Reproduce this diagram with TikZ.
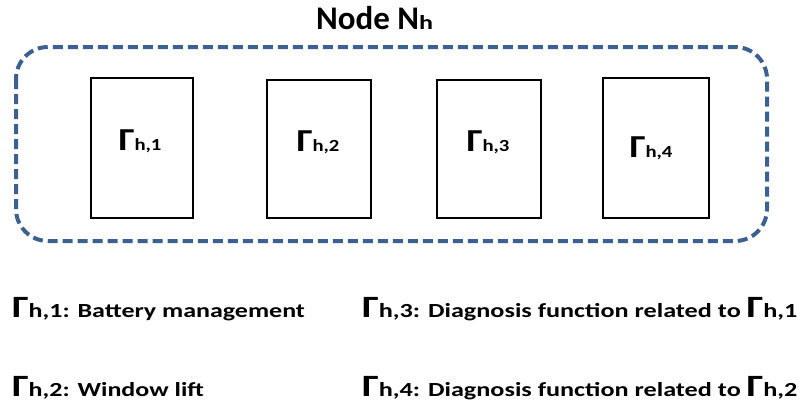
\documentclass[tikz,border=0pt]{standalone}
\usepackage{fontspec}
\setmainfont{Carlito}
\definecolor{dashblue}{HTML}{3C6090}
\newcommand{\GamBox}[1]{\scalebox{1.22}[1]{{\fontsize{32}{32}\selectfont\bfseries Γ}{\fontsize{17}{17}\selectfont\bfseries #1}}}
\newcommand{\GamLeg}[1]{{\fontsize{31}{31}\selectfont\bfseries Γ}{\fontsize{20}{20}\selectfont\bfseries #1}}
\begin{document}
\begin{tikzpicture}[x=1pt,y=-1pt,
  fbox/.style={draw=black, line width=2pt, inner sep=0pt},
  boxtext/.style={anchor=base, inner sep=0pt},
  legend/.style={anchor=base west, inner sep=0pt, font=\fontsize{20}{20}\selectfont\bfseries}]
\useasboundingbox (0,0) rectangle (803,407);
% title
\node[anchor=base west, inner sep=0pt] (title) at (316,29)
  {{\fontsize{33}{33}\selectfont\bfseries Node N}\scalebox{1.3}[1]{\fontsize{20}{20}\selectfont\bfseries h}};
% dashed container
\draw[dashblue, line width=4pt, dash pattern=on 10pt off 5pt, rounded corners=32pt]
  (16,47) rectangle (767,241);
% boxes
\node[fbox, minimum width=102pt, minimum height=140pt] (g1) at (142,148) {};
\node[fbox, minimum width=104pt, minimum height=138pt] (g2) at (319,149) {};
\node[fbox, minimum width=104pt, minimum height=138pt] (g3) at (489,149) {};
\node[fbox, minimum width=106pt, minimum height=140pt] (g4) at (656,148) {};
\node[boxtext] (t1) at (140,150) {\GamBox{h,1}};
\node[boxtext] (t2) at (318,151) {\GamBox{h,2}};
\node[boxtext] (t3) at (488,151) {\GamBox{h,3}};
\node[boxtext] (t4) at (651,157) {\GamBox{h,4}};
% legend
\node[legend] (l1) at (12,317) {\scalebox{1.3}[1]{\GamLeg{h,1}: Battery management}};
\node[legend] (l2) at (12,396) {\scalebox{1.3}[1]{\GamLeg{h,2}: Window lift}};
\node[legend] (l3) at (362,317) {\scalebox{1.31}[1]{\GamLeg{h,3}: Diagnosis function related to \GamLeg{h,1}}};
\node[legend] (l4) at (362,396) {\scalebox{1.31}[1]{\GamLeg{h,4}: Diagnosis function related to \GamLeg{h,2}}};
\end{tikzpicture}
\end{document}
